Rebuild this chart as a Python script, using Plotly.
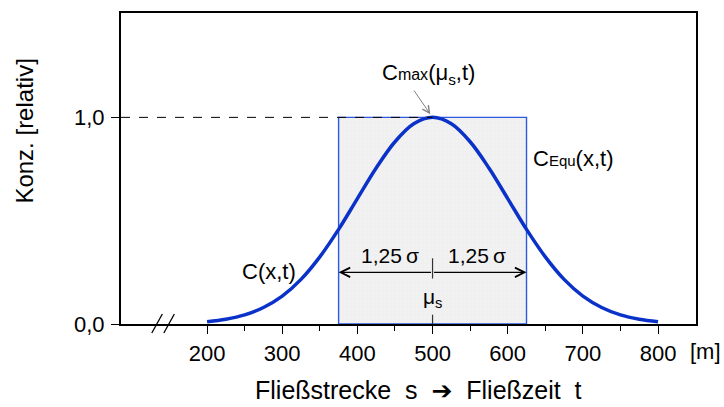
import plotly.graph_objects as go

# Relative concentration along the flow path (mean 500 m, sigma 100 m)
s_m = [200, 225, 250, 275, 300, 325, 350, 375, 400, 425, 450, 475, 500,
       525, 550, 575, 600, 625, 650, 675, 700, 725, 750, 775, 800]
c_rel = [0.011, 0.023, 0.044, 0.080, 0.135, 0.216, 0.325, 0.458, 0.607, 0.755, 0.882, 0.969, 1.0,
         0.969, 0.882, 0.755, 0.607, 0.458, 0.325, 0.216, 0.135, 0.080, 0.044, 0.023, 0.011]

mu_s = 500
sigma = 100
k_equ = 1.25
c_max = 1.0

x_ticks = [200, 300, 400, 500, 600, 700, 800]
x_minor = [250, 350, 450, 550, 650, 750]
y_ticks = [0.0, 1.0]
y_ticktext = ["0,0", "1,0"]

FONT = "Liberation Sans, Arial, sans-serif"
BLUE = "#0a32c8"
EDGE = "#2a5ae0"

x_lo, x_hi = 85.5, 850.5
left = mu_s - k_equ * sigma
right = mu_s + k_equ * sigma

fig = go.Figure()

# equivalent rectangular concentration C_Equ
fig.add_trace(go.Scatter(
    x=[left, left, right, right, left], y=[0, c_max, c_max, 0, 0],
    mode="lines", fill="toself",
    fillcolor="#efefef",
    fillpattern=dict(shape="+", size=4, solidity=0.15, fgcolor="#dedede", bgcolor="#f2f2f2"),
    line=dict(color=EDGE, width=1.4), hoverinfo="skip", showlegend=False))

# dashed reference line at C_max
fig.add_shape(type="line", xref="x", yref="y", x0=x_lo, x1=mu_s, y0=c_max, y1=c_max,
              line=dict(color="black", width=1, dash="dash"))

# concentration curve C(x,t)
fig.add_trace(go.Scatter(x=s_m, y=c_rel, mode="lines", line=dict(color=BLUE, width=3.5, shape="spline"),
                         hoverinfo="skip", showlegend=False))

# mu_s marker
fig.add_shape(type="line", xref="x", yref="y", x0=mu_s, x1=mu_s, y0=0.22, y1=0.318,
              line=dict(color="#333333", width=1.2))
fig.add_shape(type="line", xref="x", yref="y", x0=mu_s, x1=mu_s, y0=0.0, y1=0.045,
              line=dict(color="#333333", width=1.2))

# axis break marks
for xb in (126.5, 142.5):
    fig.add_shape(type="line", xref="x", yref="paper", x0=xb, x1=xb + 14, y0=-0.029, y1=0.032,
                  line=dict(color="black", width=1.3))

ann = []
# dimension arrows 1,25 sigma
y_dim = 0.25
for a, b in ((left, mu_s), (right, mu_s)):
    ann.append(dict(x=a, y=y_dim, ax=b, ay=y_dim, xref="x", yref="y", axref="x", ayref="y",
                    text="", showarrow=True, arrowhead=5, arrowsize=1.7, arrowwidth=1.1,
                    arrowcolor="black", standoff=0, startstandoff=0))
for xc in ((left + mu_s) / 2 + 6, (right + mu_s) / 2 - 4):
    ann.append(dict(x=xc, y=0.333, xref="x", yref="y", text="1,25\u2009σ", showarrow=False,
                    font=dict(size=21, family=FONT, color="black")))
ann.append(dict(x=mu_s, y=0.128, xref="x", yref="y", text="μ<sub>s</sub>", showarrow=False,
                font=dict(size=21, family=FONT, color="black")))

# curve labels
ann.append(dict(x=282, y=0.255, xref="x", yref="y", text="C(x,t)", showarrow=False,
                font=dict(size=22, family=FONT, color="black")))
ann.append(dict(x=631, y=0.80, xref="x", yref="y", xanchor="left",
                text="C<span style='font-size:15px'>Equ</span>(x,t)", showarrow=False,
                font=dict(size=22, family=FONT, color="black")))
ann.append(dict(x=495, y=1.21, xref="x", yref="y",
                text="C<span style='font-size:16px'>max</span>(μ<sub>s</sub>,t)", showarrow=False,
                font=dict(size=22, family=FONT, color="black")))
ann.append(dict(x=mu_s - 3, y=1.015, ax=474, ay=1.137, xref="x", yref="y", axref="x", ayref="y",
                text="", showarrow=True, arrowhead=5, arrowsize=1.4, arrowwidth=1,
                arrowcolor="#808080", standoff=0))

# unit and axis titles
ann.append(dict(x=1.0157, y=-0.09, xref="paper", yref="paper", text="[m]", showarrow=False,
                xanchor="center", yanchor="middle", font=dict(size=22, family=FONT, color="black")))
ann.append(dict(x=0.518, y=-0.213, xref="paper", yref="paper",
                text="Fließstrecke  s  <span style='font-family:DejaVu Sans'>➔</span>  Fließzeit  t",
                showarrow=False, xanchor="center", yanchor="middle",
                font=dict(size=25, family=FONT, color="black")))
ann.append(dict(x=-0.168, y=0.62, xref="paper", yref="paper", text="Konz. [relativ]",
                textangle=-90, showarrow=False, xanchor="center", yanchor="middle",
                font=dict(size=24, family=FONT, color="black")))

fig.update_layout(
    width=724, height=407,
    margin=dict(l=121, r=28, t=11, b=83),
    paper_bgcolor="white", plot_bgcolor="white",
    showlegend=False,
    annotations=ann,
    font=dict(family=FONT, color="black"),
)
fig.update_xaxes(
    range=[x_lo, x_hi], tickvals=x_ticks, ticks="outside", ticklen=8, tickwidth=1.2,
    tickcolor="black", showline=True, linecolor="black", linewidth=2, mirror=True,
    showgrid=False, zeroline=False, tickfont=dict(size=22, family=FONT, color="black"),
    ticklabelstandoff=1,
    minor=dict(tickvals=x_minor, ticks="outside", ticklen=5, tickwidth=1.2, tickcolor="black", showgrid=False),
)
fig.update_yaxes(
    range=[0, 1.505], tickvals=y_ticks, ticktext=y_ticktext, ticks="outside", ticklen=8,
    tickwidth=1.2, tickcolor="black", showline=True, linecolor="black", linewidth=2, mirror=True,
    showgrid=False, zeroline=False, tickfont=dict(size=22, family=FONT, color="black"),
    ticklabelstandoff=2,
)

fig.write_html("out.html")
